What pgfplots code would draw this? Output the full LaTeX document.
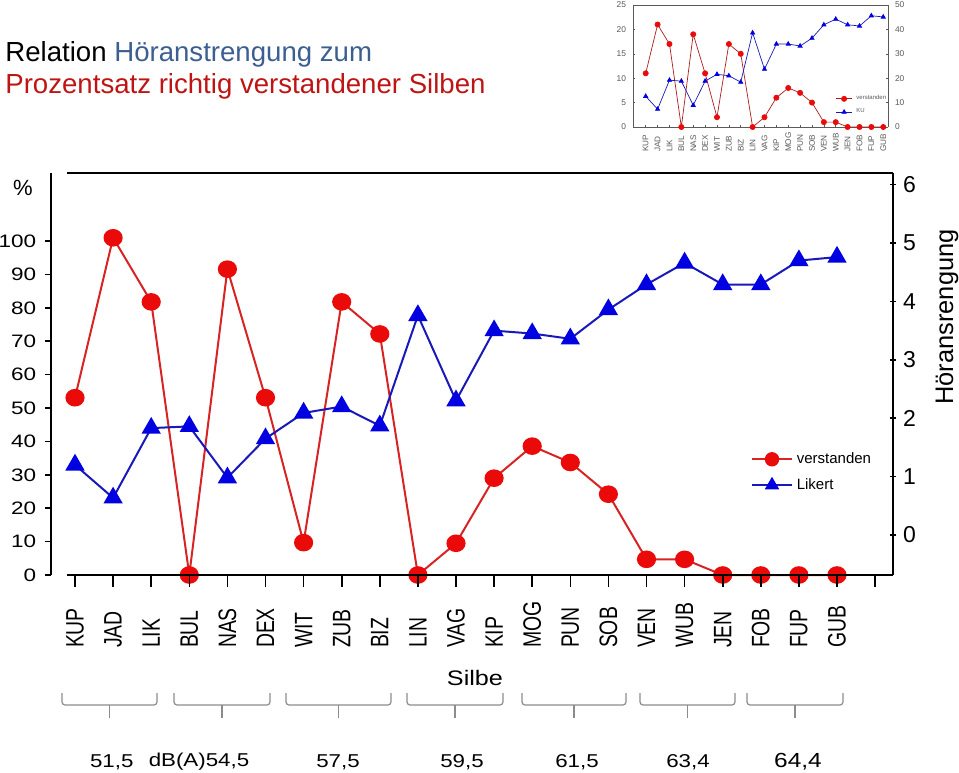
\documentclass[border=0pt]{standalone}
\usepackage{fontspec}
\setmainfont{Liberation Sans}
\usepackage{pgfplots}
\usepackage{pgfplotstable}
\pgfplotsset{compat=1.18}
\pgfplotsset{/pgf/number format/assume math mode=true}

\definecolor{rot}{RGB}{235,10,10}
\definecolor{rotlinie}{RGB}{215,35,35}
\definecolor{blau}{RGB}{0,0,225}
\definecolor{blaulinie}{RGB}{25,25,185}
\definecolor{titelblau}{RGB}{60,95,145}
\definecolor{titelrot}{RGB}{190,20,20}
\definecolor{klammer}{RGB}{140,140,140}
\definecolor{kleingrau}{RGB}{90,90,90}

% idx: Silbe, pct: % verstanden, likert: Hoeranstrengung, n: Anzahl verstanden, ku: KU
\pgfplotstableread{
idx pct likert n ku
0 53.1 1.20 11 12.6
1 101 0.635 21 7.3
2 81.8 1.83 17 19.2
3 0 1.86 0 18.8
4 91.6 0.98 19 8.9
5 53.1 1.65 11 18.8
6 9.7 2.09 2 21.6
7 81.8 2.20 17 21.0
8 72.2 1.87 15 18.4
9 0 3.76 0 38.6
10 9.5 2.30 2 23.7
11 29 3.50 6 34
12 38.6 3.45 8 34
13 33.7 3.36 7 33.2
14 24.2 3.86 5 36.4
15 4.7 4.29 1 41.9
16 4.7 4.66 1 44.2
17 0 4.29 0 41.9
18 0 4.29 0 41.4
19 0 4.70 0 45.6
20 0 4.76 0 45.1
}\daten

\begin{document}
\begin{tikzpicture}
\path[use as bounding box] (0,0) rectangle (479.5pt,-386pt);

% Titel
\node[anchor=base west, inner sep=0, font=\fontsize{13.8}{16}\selectfont] at (2.5pt,-30.5pt)
  {Relation \textcolor{titelblau}{Höranstrengung zum}};
\node[anchor=base west, inner sep=0, font=\fontsize{13.8}{16}\selectfont] at (2.5pt,-46.5pt)
  {\textcolor{titelrot}{Prozentsatz richtig verstandener Silben}};

% kleines Diagramm oben rechts
\begin{axis}[
  at={(444pt,-2.5pt)}, anchor=north east,
  scale only axis, width=127.5pt, height=61pt,
  xmin=-1.07, xmax=20.4, ymin=0, ymax=25,
  axis x line*=bottom, axis y line*=left,
  axis line style={kleingrau, line width=0.4pt, -},
  tick style={kleingrau, line width=0.3pt}, major tick length=1pt,
  xtick={0,...,20},
  xticklabels={KUP,JAD,LIK,BUL,NAS,DEX,WIT,ZUB,BIZ,LIN,VAG,KIP,MOG,PUN,SOB,VEN,WUB,JEN,FOB,FUP,GUB},
  xticklabel style={rotate=90, anchor=west, font=\fontsize{4.1}{4.5}\selectfont, text=kleingrau},
  xticklabel shift=16pt,
  ytick={0,5,...,25},
  yticklabel style={font=\fontsize{4.2}{5}\selectfont, text=kleingrau},
  clip=false,
  legend style={draw=none, fill=none, at={(0.77,0.33)}, anchor=north west,
    font=\fontsize{3}{3.5}\selectfont, row sep=-1pt, text=kleingrau},
  legend cell align=left,
  legend image code/.code={\draw[mark repeat=2,mark phase=2] plot coordinates {(0pt,0pt) (4pt,0pt) (8pt,0pt)};},
]
\draw[kleingrau, line width=0.4pt] (rel axis cs:0,1) -- (rel axis cs:1,1);
\addplot[rotlinie!80!black, line width=0.35pt, mark=*, mark size=1.3pt, mark options={fill=rot, draw=rot}]
  table[x=idx, y=n]{\daten};
\addlegendentry{verstanden}
\addlegendimage{blaulinie, line width=0.35pt, mark=triangle*, mark size=1.2pt, mark options={fill=blau, draw=blau}}
\addlegendentry{KU}
\end{axis}
\begin{axis}[
  at={(444pt,-2.5pt)}, anchor=north east,
  scale only axis, width=127.5pt, height=61pt,
  xmin=-1.07, xmax=20.4, ymin=0, ymax=50,
  axis x line=none, axis y line*=right,
  axis line style={kleingrau, line width=0.4pt, -},
  tick style={kleingrau, line width=0.3pt}, major tick length=1pt,
  ytick={0,10,...,50},
  yticklabel style={font=\fontsize{4.2}{5}\selectfont, text=kleingrau},
  clip=false,
]
\addplot[blaulinie, line width=0.35pt, mark=triangle*, mark size=1.2pt, mark options={fill=blau, draw=blau}]
  table[x=idx, y=ku]{\daten};
\end{axis}

% Hauptdiagramm: linke Achse (%)
\begin{axis}[
  at={(446.5pt,-86.5pt)}, anchor=north east,
  scale only axis, width=421pt, height=201pt,
  xmin=-0.63, xmax=21.47, ymin=0, ymax=120.4,
  axis x line=none, axis y line*=left,
  axis line style={line width=1pt, -},
  tick style={black, line width=0.8pt}, tick align=outside, major tick length=3pt,
  ytick={0,10,...,100},
  yticklabel style={font=\fontsize{9}{10}\selectfont, xscale=1.25},
  clip=false,
  legend style={draw=none, fill=none, at={(0.824,0.326)}, anchor=north west,
    font=\fontsize{7.5}{9}\selectfont, row sep=2pt},
  legend cell align=left,
  legend image code/.code={\draw[mark repeat=2,mark phase=2] plot coordinates {(0pt,0pt) (10pt,0pt) (20pt,0pt)};},
]
\addplot[rotlinie, line width=1pt, mark=*, mark size=3.9pt, mark options={fill=rot, draw=rot, xscale=1.1}, forget plot]
  table[x=idx, y=pct]{\daten};
\addlegendimage{rotlinie, line width=0.8pt, mark=*, mark size=3.2pt, mark options={fill=rot, draw=rot}}
\addlegendentry{verstanden}
\addlegendimage{blaulinie, line width=0.8pt, mark=triangle*, mark size=3.4pt, mark options={fill=blau, draw=blau}}
\addlegendentry{Likert}
\end{axis}

% rechte Achse (Hoeranstrengung)
\begin{axis}[
  at={(446.5pt,-86.5pt)}, anchor=north east,
  scale only axis, width=413pt, height=201pt,
  xmin=-0.21, xmax=21.47, ymin=-0.686, ymax=6.2,
  axis x line=none, axis y line*=right,
  axis line style={line width=1pt, -},
  tick style={black, line width=0.8pt}, tick align=center, major tick length=3pt,
  ytick={0,...,6},
  yticklabel style={font=\fontsize{11.5}{12}\selectfont},
  clip=false,
]
\addplot[blaulinie, line width=1pt, mark=triangle*, mark size=4.6pt, mark options={fill=blau, draw=blau}]
  table[x=idx, y=likert]{\daten};
\end{axis}

% untere Achse mit Silben
\begin{axis}[
  at={(446.5pt,-86.5pt)}, anchor=north east,
  scale only axis, width=413pt, height=201pt,
  xmin=-0.21, xmax=21.47, ymin=0, ymax=1,
  axis y line=none, axis x line*=bottom,
  axis line style={line width=1pt, -},
  tick style={black, line width=0.8pt}, tick align=outside, major tick length=6pt,
  xtick={0,...,21},
  xticklabels={KUP,JAD,LIK,BUL,NAS,DEX,WIT,ZUB,BIZ,LIN,VAG,KIP,MOG,PUN,SOB,VEN,WUB,JEN,FOB,FUP,GUB,{}},
  xticklabel style={rotate=90, anchor=west, font=\fontsize{9.7}{10}\selectfont, yscale=1.3},
  xticklabel shift=34pt,
  clip=false,
]
\draw[line width=1pt] (rel axis cs:0,1) -- (rel axis cs:1,1);
\end{axis}

% Beschriftungen
\node[font=\fontsize{11}{12}\selectfont] at (11.5pt,-94pt) {\%};
\node[rotate=90, font=\fontsize{12.7}{14}\selectfont] at (473.5pt,-158.5pt) {Höransrengung};
\node[font=\fontsize{10.5}{12}\selectfont, xscale=1.2] at (237.5pt,-339pt) {Silbe};

% Klammern
\foreach \a/\b in {31/78.5, 87/135, 143/195.5, 203.5/251.5, 261/313, 320/367.5, 373.5/421.5}{
  \draw[klammer, line width=0.6pt, rounded corners=1.5pt]
    (\a pt,-346.5pt) -- (\a pt,-352.5pt) -- (\b pt,-352.5pt) -- (\b pt,-346.5pt);
  \draw[klammer, line width=0.6pt] ({(\a+\b)/2*1pt},-352.5pt) -- ({(\a+\b)/2*1pt},-359pt);
}

% dB-Werte
\foreach \x/\t in {55.9/{51,5}, 99.5/{dB(A)54,5}, 169/{57,5}, 231/{59,5}, 288.5/{61,5}, 344/{63,4}}{
  \node[font=\fontsize{9.3}{10}\selectfont, xscale=1.2] at (\x pt,-381pt) {\t};
}
\node[font=\fontsize{10.2}{11}\selectfont, xscale=1.2] at (399pt,-381pt) {64,4};
\end{tikzpicture}
\end{document}
